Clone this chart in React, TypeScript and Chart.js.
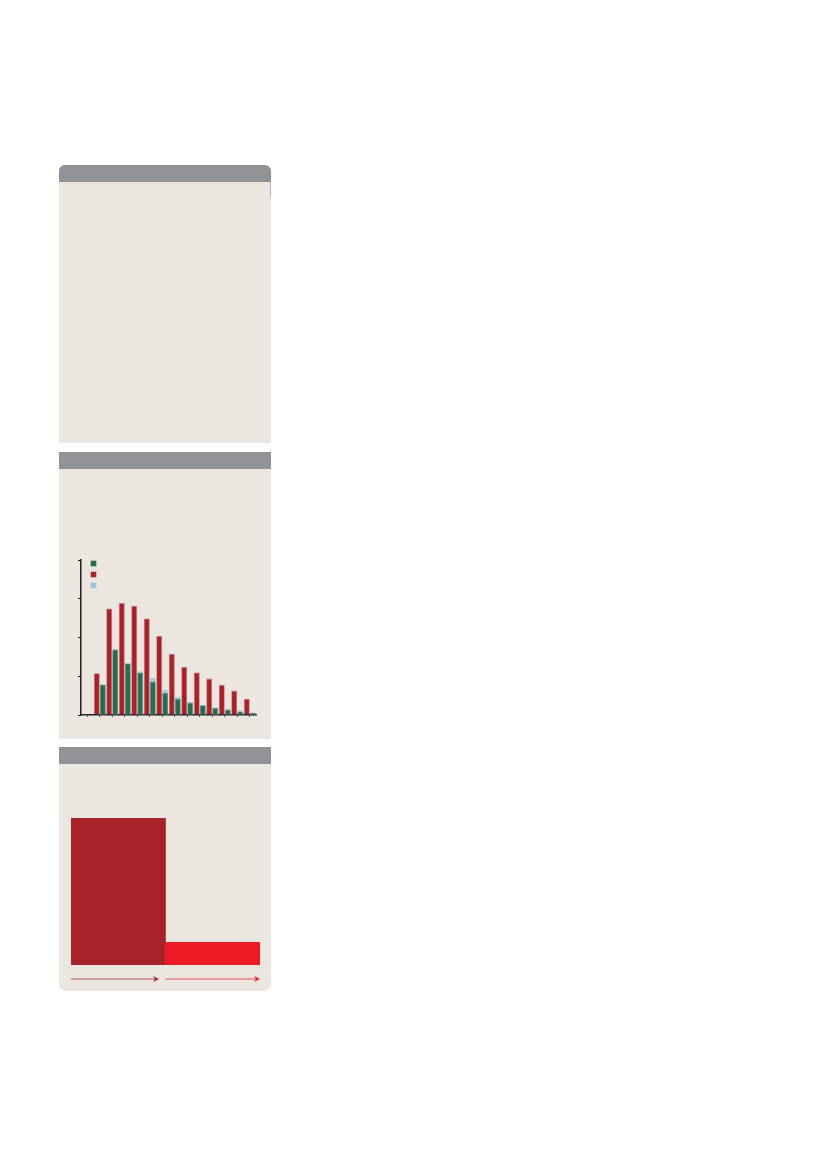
import React, { useEffect, useRef } from "react";
import { Chart, registerables } from "chart.js";

Chart.register(...registerables);

// ---------- data ----------
const ageGroups = ["0", "1", "2", "3", "4", "5", "6", "7", "8", "9", "10", "11", "12", "13"];
const seriesRed = [0, 10.8, 27.5, 28.9, 28.2, 24.9, 20.4, 15.8, 12.4, 11.0, 9.4, 7.8, 6.3, 4.2];
const seriesGreen = [0, 7.9, 16.9, 13.3, 10.9, 8.6, 5.7, 4.2, 3.2, 2.5, 1.8, 1.4, 0.9, 0.6];
const seriesBlue = [0, 7.9, 17.0, 13.4, 11.3, 9.7, 6.6, 4.7, 3.4, 2.6, 2.0, 1.6, 1.2, 0.7];
const yTickMin = 0;
const yTickMax = 40;
const yTickStep = 10;

const compareCategories = ["A", "B"];
const compareValues = [100, 15.5];

// ---------- colours ----------
const HEADER = "#929397";
const BODY = "#EBE6E0";
const RED = "#A6232A";
const RED_EDGE = "#C8767A";
const GREEN = "#2A6A4E";
const GREEN_EDGE = "#6E9886";
const BLUE = "#9CC4DA";
const BLUE_EDGE = "#B9D3E0";
const BRIGHT = "#ED1C24";
const AXIS = "#231F20";

function GroupedBars() {
  const ref = useRef<HTMLCanvasElement | null>(null);
  useEffect(() => {
    if (!ref.current) return;
    const chart = new Chart(ref.current, {
      type: "bar",
      data: {
        labels: ageGroups,
        datasets: [
          { data: seriesRed, backgroundColor: RED, borderColor: RED_EDGE, borderWidth: 0.8, stack: "r" },
          { data: seriesGreen, backgroundColor: GREEN, borderColor: GREEN_EDGE, borderWidth: 0.8, stack: "g" },
          { data: seriesBlue, backgroundColor: BLUE, borderColor: BLUE_EDGE, borderWidth: 0.8, stack: "g" },
        ],
      },
      options: {
        animation: false,
        responsive: false,
        maintainAspectRatio: false,
        datasets: { bar: { categoryPercentage: 0.96, barPercentage: 1 } },
        layout: { padding: { left: 8, right: 9, top: 10, bottom: 8 } },
        plugins: { legend: { display: false }, tooltip: { enabled: false } },
        scales: {
          x: {
            stacked: true,
            offset: true,
            grid: { offset: false, drawOnChartArea: false, drawTicks: true, tickLength: 2, color: AXIS, lineWidth: 0.8 },
            border: { display: true, color: AXIS, width: 1.5 },
            ticks: { display: false },
          },
          y: {
            stacked: false,
            min: yTickMin,
            max: yTickMax,
            ticks: { stepSize: yTickStep, display: false },
            grid: { drawOnChartArea: false, drawTicks: true, tickLength: 3, color: AXIS, lineWidth: 1 },
            border: { display: true, color: AXIS, width: 1.5 },
          },
        },
      },
    });
    return () => chart.destroy();
  }, []);
  return (
    <canvas
      ref={ref}
      width={195}
      height={175}
      style={{ position: "absolute", left: 70, top: 550, width: 195, height: 175 }}
    />
  );
}

const arrowPlugin = {
  id: "arrows",
  afterDatasetsDraw(chart: any) {
    const { ctx, chartArea } = chart;
    const xs = chart.scales.x;
    const n = compareCategories.length;
    const w = (chartArea.right - chartArea.left) / n;
    const colors = [RED, BRIGHT];
    const y = chartArea.bottom + 14;
    ctx.save();
    for (let i = 0; i < n; i++) {
      const c = xs.getPixelForValue(i);
      const start = c - w / 2;
      const end = i === n - 1 ? c + w / 2 : c + w / 2 - 6.5;
      ctx.strokeStyle = colors[i];
      ctx.globalAlpha = 0.5;
      ctx.lineWidth = 1.3;
      ctx.beginPath();
      ctx.moveTo(start, y);
      ctx.lineTo(end - 3, y);
      ctx.stroke();
      ctx.globalAlpha = 1;
      ctx.fillStyle = colors[i];
      ctx.beginPath();
      ctx.moveTo(end, y);
      ctx.lineTo(end - 6, y - 3);
      ctx.lineTo(end - 4, y);
      ctx.lineTo(end - 6, y + 3);
      ctx.closePath();
      ctx.fill();
    }
    ctx.restore();
  },
};

function CompareBars() {
  const ref = useRef<HTMLCanvasElement | null>(null);
  useEffect(() => {
    if (!ref.current) return;
    const chart = new Chart(ref.current, {
      type: "bar",
      data: {
        labels: compareCategories,
        datasets: [
          {
            data: compareValues,
            backgroundColor: [RED, BRIGHT],
            borderWidth: 0,
            categoryPercentage: 1,
            barPercentage: 1,
          },
        ],
      },
      options: {
        animation: false,
        responsive: false,
        maintainAspectRatio: false,
        layout: { padding: { left: 0, right: 0, top: 18, bottom: 25 } },
        plugins: { legend: { display: false }, tooltip: { enabled: false } },
        scales: {
          x: { display: false },
          y: { display: false, min: 0, max: 100 },
        },
      },
      plugins: [arrowPlugin],
    });
    return () => chart.destroy();
  }, []);
  return (
    <canvas
      ref={ref}
      width={189}
      height={190}
      style={{ position: "absolute", left: 71, top: 800, width: 189, height: 190 }}
    />
  );
}

function Panel(props: { top: number; height: number; radiusTop?: boolean; radiusBottom?: boolean }) {
  const { top, height, radiusTop, radiusBottom } = props;
  const r = `${radiusTop ? 6 : 0}px ${radiusTop ? 6 : 0}px ${radiusBottom ? 7 : 0}px ${radiusBottom ? 7 : 0}px`;
  return (
    <div
      style={{
        position: "absolute",
        left: 59,
        top,
        width: 212,
        height,
        background: BODY,
        borderRadius: r,
        overflow: "hidden",
      }}
    >
      <div style={{ position: "absolute", left: 0, top: 0, width: 212, height: 17, background: HEADER }} />
    </div>
  );
}

function Swatch(props: { top: number; color: string; edge: string }) {
  return (
    <div
      style={{
        position: "absolute",
        left: 91,
        top: props.top,
        width: 5,
        height: 5,
        background: props.color,
        boxShadow: `0 0 0 0.5px ${props.edge}`,
      }}
    />
  );
}

export default function App() {
  return (
    <div style={{ position: "absolute", left: 0, top: 0, width: 826, height: 1169, background: "#ffffff", overflow: "hidden" }}>
      <Panel top={165} height={278} radiusTop />
      <div style={{ position: "absolute", left: 270, top: 182, width: 1, height: 15, background: "#B5B5B7" }} />
      <Panel top={452} height={287} />
      <Panel top={747} height={244} radiusBottom />
      <Swatch top={561} color={GREEN} edge={GREEN_EDGE} />
      <Swatch top={572} color={RED} edge={RED_EDGE} />
      <Swatch top={583} color={BLUE} edge={BLUE_EDGE} />
      <GroupedBars />
      <CompareBars />
    </div>
  );
}
